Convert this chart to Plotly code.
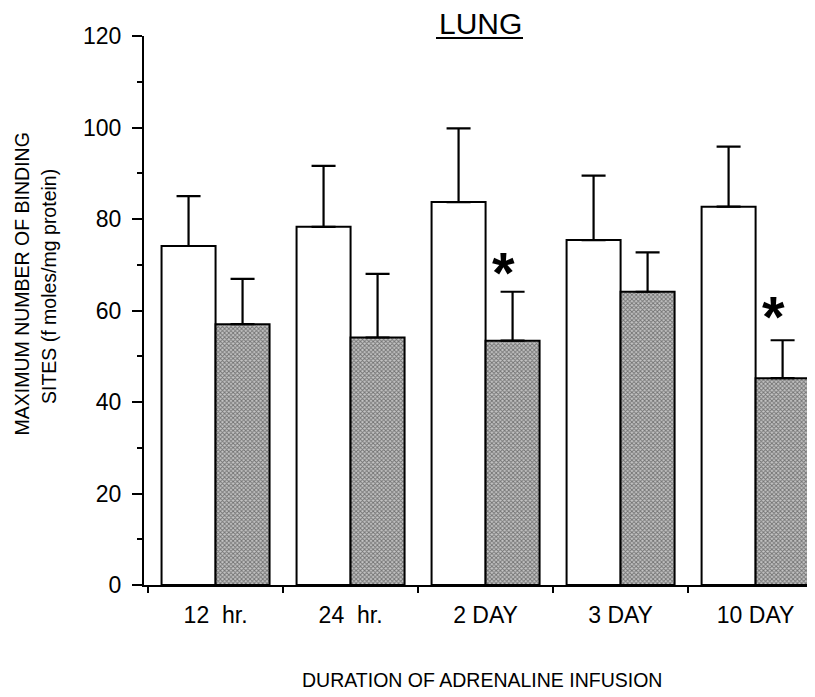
import plotly.graph_objects as go

# ---- data ----
categories = ["12  hr.", "24  hr.", "2 DAY", "3 DAY", "10 DAY"]
control_mean = [74.1, 78.3, 83.7, 75.4, 82.7]
control_err = [10.9, 13.3, 16.1, 14.1, 13.1]
infused_mean = [57.0, 54.1, 53.4, 64.1, 45.2]
infused_err = [9.9, 13.9, 10.7, 8.6, 8.3]
sig_labels = ["", "", "*", "", "*"]
sig_y = [None, None, 70.4, None, 60.8]
y_ticks = [0, 20, 40, 60, 80, 100, 120]

FONT = "Liberation Sans, Arial, Helvetica, sans-serif"

# the page body adds an 8 px margin around the figure
OFF = 8
PAGE_W, PAGE_H = 815, 697
W, H = PAGE_W - OFF, PAGE_H - OFF
# plot area in page pixels: x 144..815, y 36..585
L, R, T, B = 144 - OFF, 0, 36 - OFF, H - (585 - OFF)
pw, ph = W - L - R, H - T - B


def px_x(p):  # page pixel -> paper x
    return (p - OFF - L) / pw


def px_y(p):  # page pixel -> paper y
    return (H - B - (p - OFF)) / ph


fig = go.Figure()

fig.add_trace(go.Bar(
    x=categories, y=control_mean,
    marker=dict(color="white", line=dict(color="black", width=2)),
    error_y=dict(type="data", array=control_err, arrayminus=[0] * len(control_err),
                 symmetric=False, color="black", thickness=2.2, width=12),
    showlegend=False,
))
fig.add_trace(go.Bar(
    x=categories, y=infused_mean,
    marker=dict(color="#a0a0a0", line=dict(color="black", width=2),
                pattern=dict(shape="x", fgcolor="#1e1e1e", bgcolor="#c4c4c4",
                             size=3, solidity=0.5)),
    error_y=dict(type="data", array=infused_err, arrayminus=[0] * len(infused_err),
                 symmetric=False, color="black", thickness=2.2, width=12),
    showlegend=False,
))

annotations = []
for cat, lab, yv in zip(categories, sig_labels, sig_y):
    if lab:
        annotations.append(dict(
            x=cat, y=yv, xref="x", yref="y", text="<b>" + lab + "</b>",
            showarrow=False, xanchor="center", yanchor="middle",
            xshift=18, yshift=-10,
            font=dict(family=FONT, size=58, color="black"),
        ))

# axis titles and chart title
annotations += [
    dict(x=px_x(21.5), y=px_y(284), xref="paper", yref="paper",
         text="MAXIMUM NUMBER OF BINDING", textangle=-90, showarrow=False,
         xanchor="center", yanchor="middle",
         font=dict(family=FONT, size=19.5, color="black")),
    dict(x=px_x(49), y=px_y(287), xref="paper", yref="paper",
         text="SITES (f moles/mg protein)", textangle=-90, showarrow=False,
         xanchor="center", yanchor="middle",
         font=dict(family=FONT, size=19.5, color="black")),
    dict(x=px_x(482), y=px_y(680), xref="paper", yref="paper",
         text="DURATION OF ADRENALINE INFUSION", showarrow=False,
         xanchor="center", yanchor="middle",
         font=dict(family=FONT, size=19.5, color="black")),
    dict(x=px_x(480), y=px_y(23), xref="paper", yref="paper",
         text="LUNG", showarrow=False, xanchor="center", yanchor="middle",
         font=dict(family=FONT, size=30, color="black")),
]

fig.update_layout(
    width=W, height=H,
    margin=dict(l=L, r=R, t=T, b=B, pad=0, autoexpand=False),
    paper_bgcolor="white", plot_bgcolor="white",
    barmode="group", bargap=0.2, bargroupgap=0,
    annotations=annotations,
    shapes=[dict(type="line", xref="paper", yref="paper",
                 x0=px_x(436), x1=px_x(523), y0=px_y(38), y1=px_y(38),
                 line=dict(color="black", width=2))],
    font=dict(family=FONT, color="black"),
)

fig.update_xaxes(
    type="category", range=[-0.53, 4.44],
    showline=True, linecolor="black", linewidth=2,
    ticks="outside", tickson="boundaries", ticklen=6, tickwidth=2, tickcolor="black",
    tickfont=dict(family=FONT, size=23, color="black"),
    ticklabelstandoff=8,
    showgrid=False, zeroline=False,
)
fig.update_yaxes(
    range=[0, 120], tickvals=y_ticks, ticktext=[str(v) for v in y_ticks],
    showline=True, linecolor="black", linewidth=2,
    ticks="outside", ticklen=10, tickwidth=2, tickcolor="black",
    minor=dict(dtick=10, ticks="outside", ticklen=5, tickwidth=2, tickcolor="black", showgrid=False),
    tickfont=dict(family=FONT, size=23, color="black"),
    ticklabelstandoff=6,
    showgrid=False, zeroline=False,
)

fig.write_html("out.html")
